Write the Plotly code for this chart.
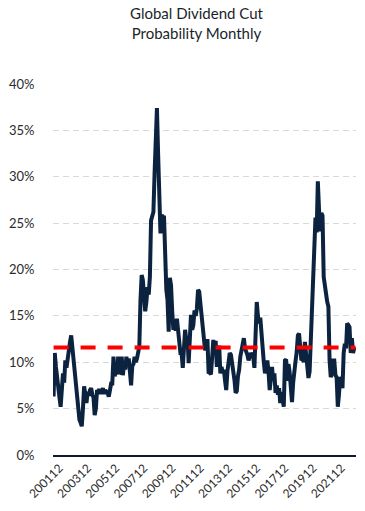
import plotly.graph_objects as go

# Monthly categories 200107 .. 202212
months = []
y, m = 2001, 7
while (y, m) <= (2022, 12):
    months.append(f"{y}{m:02d}")
    m += 1
    if m > 12:
        m = 1
        y += 1

# Dividend cut probability (%)
prob_2001 = [6.3, 11.0, 9.5, 8.0, 7.0, 6.2]
prob_2002 = [5.2, 7.0, 8.8, 7.8, 10.2, 9.4, 10.6, 11.3, 12.2, 12.9, 11.5, 9.8]
prob_2003 = [8.4, 7.0, 6.3, 4.0, 3.8, 3.5, 3.1, 5.0, 7.4, 6.5, 5.6, 6.8]
prob_2004 = [6.4, 7.0, 7.2, 6.5, 6.2, 4.3, 5.0, 7.0, 6.8, 7.1, 6.6, 6.9]
prob_2005 = [7.2, 6.6, 7.0, 6.8, 6.7, 6.3, 7.0, 7.7, 7.7, 10.6, 8.5, 9.0]
prob_2006 = [8.7, 10.6, 8.8, 8.9, 10.6, 8.6, 9.8, 9.2, 10.6, 9.5, 10.4, 9.0]
prob_2007 = [7.5, 9.6, 9.8, 10.6, 10.0, 10.4, 11.1, 11.7, 16.7, 19.4, 18.9, 17.2]
prob_2008 = [15.5, 16.5, 18.1, 17.3, 19.2, 25.3, 25.8, 26.2, 30.4, 34.0, 37.4, 32.5]
prob_2009 = [27.8, 23.9, 25.9, 25.6, 25.8, 20.0, 17.8, 16.7, 13.3, 19.1, 18.3, 15.5]
prob_2010 = [13.5, 14.6, 13.4, 14.7, 13.0, 11.7, 11.0, 11.0, 9.4, 11.5, 13.5, 12.4]
prob_2011 = [12.8, 9.9, 12.0, 15.1, 13.5, 14.0, 15.6, 15.0, 15.8, 17.8, 17.6, 16.5]
prob_2012 = [14.9, 13.5, 13.1, 11.3, 11.6, 12.5, 8.8, 8.9, 8.7, 11.0, 12.4, 11.5]
prob_2013 = [12.3, 9.5, 10.5, 11.8, 8.8, 9.5, 8.9, 9.2, 8.0, 7.0, 9.0, 10.4]
prob_2014 = [11.0, 10.8, 10.0, 9.2, 8.1, 6.7, 6.9, 8.5, 9.2, 10.6, 11.4, 12.0]
prob_2015 = [12.6, 11.5, 11.2, 10.8, 10.2, 10.6, 11.0, 10.8, 10.6, 9.4, 12.5, 16.5]
prob_2016 = [15.0, 14.2, 14.8, 12.8, 11.3, 10.0, 8.8, 9.5, 10.2, 9.0, 7.0, 8.2]
prob_2017 = [9.5, 8.0, 8.8, 6.7, 7.5, 6.5, 7.2, 5.6, 6.8, 6.0, 5.2, 10.2]
prob_2018 = [10.3, 8.0, 9.8, 8.9, 6.7, 5.7, 7.8, 9.5, 10.1, 11.1, 12.9, 13.1]
prob_2019 = [11.5, 10.2, 10.4, 10.0, 12.2, 11.0, 9.2, 8.3, 9.0, 12.4, 15.5, 18.9]
prob_2020 = [24.6, 25.6, 24.0, 29.5, 26.5, 24.1, 26.1, 25.8, 19.2, 18.5, 17.4, 16.5]
prob_2021 = [16.0, 10.2, 8.4, 8.8, 10.2, 10.2, 8.6, 8.4, 5.2, 6.5, 8.4, 8.1]
prob_2022 = [7.2, 11.0, 12.0, 11.5, 14.2, 14.0, 13.8, 11.0, 12.6, 11.0, 11.5, 11.3]

probability = (prob_2001 + prob_2002 + prob_2003 + prob_2004 + prob_2005 + prob_2006
               + prob_2007 + prob_2008 + prob_2009 + prob_2010 + prob_2011 + prob_2012
               + prob_2013 + prob_2014 + prob_2015 + prob_2016 + prob_2017 + prob_2018
               + prob_2019 + prob_2020 + prob_2021 + prob_2022)

average_level = 11.6
tick_labels = ["200112", "200312", "200512", "200712", "200912", "201112",
               "201312", "201512", "201712", "201912", "202112"]
y_ticks = [0, 5, 10, 15, 20, 25, 30, 35, 40]

FONT = "Lato, 'Open Sans', sans-serif"

W, H = 365, 511
ML, MR, MT, MB = 46, 9, 84, 56
plot_h = H - MT - MB

fig = go.Figure()
fig.add_trace(go.Scatter(
    x=months, y=probability, mode="lines",
    line=dict(color="#0c2340", width=4),
    hoverinfo="skip",
))
fig.add_trace(go.Scatter(
    x=months, y=[average_level] * len(months), mode="lines",
    line=dict(color="#ff0000", width=4, dash="15px,12px"),
    hoverinfo="skip",
))

fig.add_annotation(
    text="Global Dividend Cut<br>Probability Monthly",
    xref="paper", yref="paper",
    x=(193 - ML) / (W - ML - MR), xanchor="center",
    y=1 + (MT - 23) / plot_h, yanchor="middle",
    showarrow=False, align="center",
    font=dict(family=FONT, size=15, color="#1a1f2b"),
)

fig.update_layout(
    width=W, height=H,
    margin=dict(l=ML, r=MR, t=MT, b=MB),
    paper_bgcolor="white", plot_bgcolor="white",
    showlegend=False,
    font=dict(family=FONT, color="#333333"),
)
fig.update_xaxes(
    type="category",
    categoryorder="array", categoryarray=months,
    tickmode="array", tickvals=tick_labels, ticktext=tick_labels,
    tickangle=-45,
    tickfont=dict(family=FONT, size=12, color="#2b2b2b"),
    showgrid=False, zeroline=False,
    showline=True, linecolor="#0c1a33", linewidth=1.5,
    ticks="",
    range=[-0.5, len(months) - 0.5],
)
fig.update_yaxes(
    range=[0, 40],
    tickmode="array", tickvals=y_ticks, ticktext=[f"{v}%" for v in y_ticks],
    tickfont=dict(family=FONT, size=13, color="#2b2b2b"),
    showgrid=True, gridcolor="#d9d9d9", gridwidth=1, griddash="6px,4px",
    zeroline=False, showline=False,
    ticks="outside", ticklen=15, tickcolor="rgba(0,0,0,0)",
)

fig.write_html(
    "out.html",
    config={"displayModeBar": False, "staticPlot": True},
    post_script="document.body.style.margin='0';",
)
